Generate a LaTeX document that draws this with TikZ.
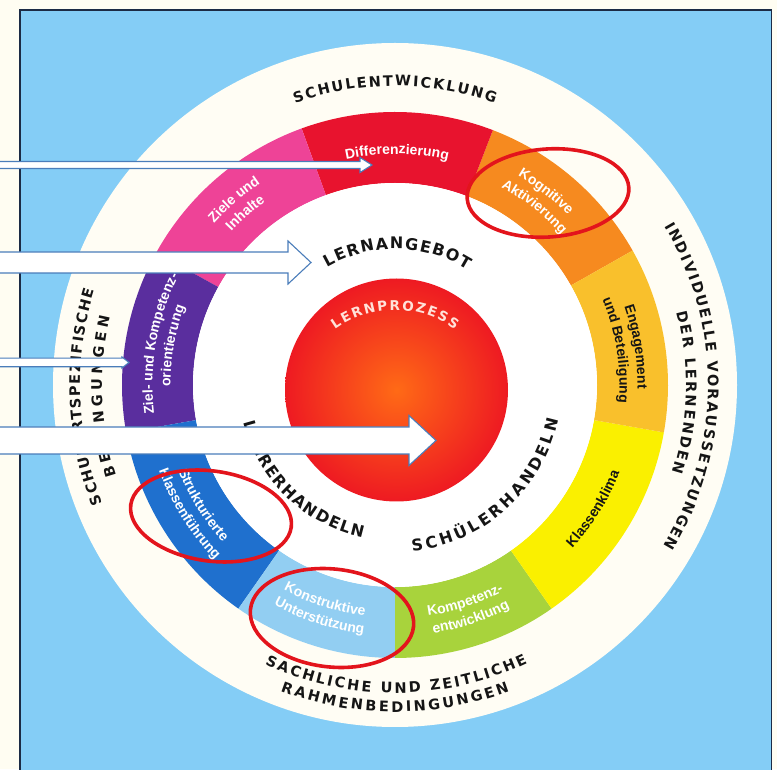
\documentclass[tikz,border=0pt]{standalone}
\usepackage{fontspec}
\setmainfont{Liberation Sans}
\newfontfamily\capsfont{DejaVu Sans}
\usetikzlibrary{decorations.text}
\definecolor{bgcream}{HTML}{FFFDF2}
\definecolor{panelblue}{HTML}{84CDF6}
\definecolor{paneledge}{HTML}{1C2B45}
\definecolor{diskwhite}{HTML}{FFFDF4}
\definecolor{segorange}{HTML}{F68A1F}
\definecolor{segred}{HTML}{E8132E}
\definecolor{segpink}{HTML}{EE4397}
\definecolor{segpurple}{HTML}{5A2E9E}
\definecolor{segblue}{HTML}{1F70CE}
\definecolor{seglight}{HTML}{92CEF2}
\definecolor{seggreen}{HTML}{A8D33C}
\definecolor{segyellow}{HTML}{FAF000}
\definecolor{seggold}{HTML}{F9C02C}
\definecolor{spherein}{HTML}{FF6A16}
\definecolor{sphereout}{HTML}{EE1A22}
\definecolor{markred}{HTML}{E3141C}
\definecolor{arrowline}{HTML}{4A7DBA}
\definecolor{inktext}{HTML}{151515}
\definecolor{paletext}{HTML}{FFE2DA}
\newcommand\fcaps{\fontsize{14.5}{14.5}\selectfont\capsfont\bfseries\color{inktext}}
\newcommand\fbig{\fontsize{16}{16}\selectfont\capsfont\bfseries\color{inktext}}
\newcommand\fproc{\fontsize{13.5}{13.5}\selectfont\capsfont\bfseries\color{paletext}}
\newcommand\fseg{\fontsize{14}{14}\selectfont\bfseries\color{white}}
\newcommand\fsegdark{\fontsize{14}{14}\selectfont\bfseries\color{inktext}}
% ring segment: start angle, end angle, colour
\newcommand\ringseg[3]{\fill[#3] (#1:273pt) arc[start angle=#1, end angle=#2, radius=273pt] -- (#2:202pt) arc[start angle=#2, end angle=#1, radius=202pt] -- cycle;}
% text on an arc: radius, start, end, alignment, format, text
\newcommand\arcline[6]{\path[decorate, decoration={text along path, text align=#4, text={|#5|#6}}] (#2:#1pt) arc[start angle=#2, end angle=#3, radius=#1pt];}
% block arrow: tip coordinate, length, shaft half width, head length, head half width
\newcommand\blockarrow[5]{\draw[arrowbox, shift={(#1)}] (-#2,-#3) -- (-#4,-#3) -- (-#4,-#5) -- (0,0) -- (-#4,#5) -- (-#4,#3) -- (-#2,#3) -- cycle;}
\tikzset{
  arrowbox/.style={fill=white, draw=arrowline, line width=1.1pt, line join=miter},
  markring/.style={draw=markred, line width=3.6pt}
}
\begin{document}
\begin{tikzpicture}[x=1pt,y=1pt]
\useasboundingbox (0,0) rectangle (777,769);
\fill[bgcream] (0,0) rectangle (777,769);
% panel
\fill[panelblue] (20,-2) rectangle (771.5,759);
\draw[paneledge, line width=1.5pt] (20,-2) -- (20,759) -- (771.5,759) -- (771.5,-2);
% wheel
\begin{scope}[shift={(395pt,384pt)}]
  \fill[diskwhite] (0,0) circle[radius=342pt];
  \ringseg{29.5}{69}{segorange}
  \ringseg{69}{110}{segred}
  \ringseg{110}{151}{segpink}
  \ringseg{151}{190}{segpurple}
  \ringseg{190}{235}{segblue}
  \ringseg{235}{270}{seglight}
  \ringseg{270}{305}{seggreen}
  \ringseg{305}{350}{segyellow}
  \ringseg{350}{389.5}{seggold}
  \fill[white] (0,0) circle[radius=202pt];
\end{scope}
% sphere
\coordinate (spherec) at (396.5,379);
\shade[inner color=spherein, outer color=sphereout] (spherec) circle[radius=111.5pt];
% texts of the wheel
\begin{scope}[shift={(395pt,384pt)}]
  \arcline{299}{109.5}{70.5}{fit to path}{\fcaps}{SCHULENTWICKLUNG}
  \arcline{313}{30.5}{-31}{fit to path}{\fcaps}{INDIVIDUELLE VORAUSSETZUNGEN}
  \arcline{291}{14.5}{-17.5}{fit to path}{\fcaps}{DER LERNENDEN}
  \arcline{315}{202}{162.5}{fit to path}{\fcaps}{SCHULARTSPEZIFISCHE}
  \arcline{293}{198}{166.5}{fit to path}{\fcaps}{BEDINGUNGEN}
  \arcline{308}{245}{295.5}{fit to path}{\fcaps}{SACHLICHE UND ZEITLICHE}
  \arcline{327}{249.5}{290.5}{fit to path}{\fcaps}{RAHMENBEDINGUNGEN}
  \arcline{136}{120}{58}{fit to path}{\fbig}{LERNANGEBOT}
  \arcline{156}{194}{258}{fit to path}{\fbig}{LEHRERHANDELN}
  \arcline{167}{276}{348}{fit to path}{\fbig}{SCHÜLERHANDELN}
  \arcline{231}{110}{69}{center}{\fseg}{Differenzierung}
  \arcline{242.5}{72}{32}{center}{\fseg}{Kognitive}
  \arcline{224.5}{72}{32}{center}{\fseg}{Aktivierung}
  \arcline{242.5}{151}{111}{center}{\fseg}{Ziele und}
  \arcline{224.5}{151}{111}{center}{\fseg}{Inhalte}
  \arcline{242.5}{195}{145}{center}{\fseg}{Ziel- und Kompetenz-}
  \arcline{224.5}{195}{145}{center}{\fseg}{orientierung}
  \arcline{242.5}{34}{-16}{center}{\fsegdark}{Engagement}
  \arcline{224.5}{34}{-16}{center}{\fsegdark}{und Beteiligung}
  \arcline{241}{303}{353}{center}{\fsegdark}{Klassenklima}
  \arcline{233}{263}{313}{center}{\fseg}{Kompetenz-}
  \arcline{251}{263}{313}{center}{\fseg}{entwicklung}
  \arcline{233}{227}{277}{center}{\fseg}{Konstruktive}
  \arcline{251}{227}{277}{center}{\fseg}{Unterstützung}
  \arcline{233}{187}{237}{center}{\fseg}{Strukturierte}
  \arcline{251}{187}{237}{center}{\fseg}{Klassenführung}
\end{scope}
\begin{scope}[shift={(395pt,357pt)}]
  \arcline{102}{126}{54}{fit to path}{\fproc}{LERNPROZESS}
\end{scope}
% red annotation ellipses
\draw[markring, rotate around={4:(548,576)}] (548,576) ellipse[x radius=81pt, y radius=44pt];
\draw[markring, rotate around={-8:(211,253)}] (211,253) ellipse[x radius=81pt, y radius=45pt];
\draw[markring, rotate around={-6:(332,151)}] (332,151) ellipse[x radius=82pt, y radius=49pt];
% arrows
\coordinate (tipone) at (372,604);
\coordinate (tiptwo) at (311,506.5);
\coordinate (tipthree) at (129,406.5);
\coordinate (tipfour) at (436,328.5);
\blockarrow{tipone}{375}{3.5}{12}{7.5}
\blockarrow{tiptwo}{314}{10.5}{23}{21.5}
\blockarrow{tipthree}{132}{4.3}{7}{5.5}
\blockarrow{tipfour}{439}{13.5}{27}{25}
\end{tikzpicture}
\end{document}
